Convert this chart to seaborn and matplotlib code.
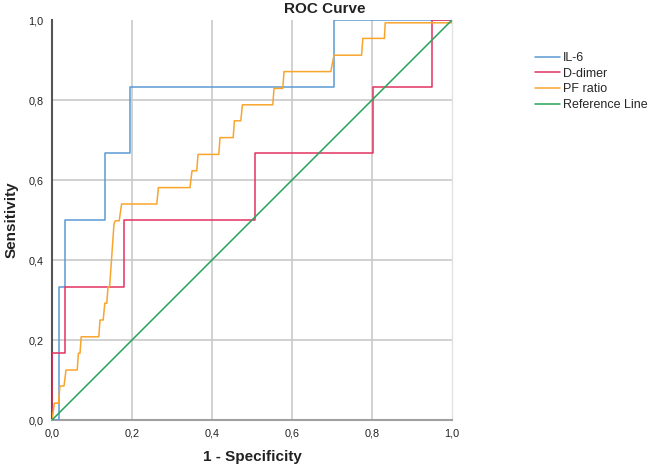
import numpy as np
import pandas as pd
import matplotlib
matplotlib.use("Agg")
import matplotlib.pyplot as plt
import seaborn as sns

# ---- data (ROC vertices) ----
il6_fpr = [0.0, 0.010, 0.017, 0.017, 0.033, 0.033, 0.133, 0.133, 0.195, 0.195, 0.705, 0.705, 1.0]
il6_tpr = [0.0, 0.0, 0.0, 0.333, 0.333, 0.500, 0.500, 0.667, 0.667, 0.833, 0.833, 1.0, 1.0]

ddimer_fpr = [0.0, 0.0, 0.033, 0.033, 0.181, 0.181, 0.508, 0.508, 0.803, 0.803, 0.951, 0.951, 1.0]
ddimer_tpr = [0.0, 0.167, 0.167, 0.333, 0.333, 0.500, 0.500, 0.667, 0.667, 0.833, 0.833, 1.0, 1.0]

pf_fpr = [0.0, 0.006, 0.016, 0.020, 0.030, 0.035, 0.063, 0.066, 0.070, 0.073, 0.117, 0.120,
          0.128, 0.132, 0.137, 0.140, 0.144, 0.155, 0.158, 0.168, 0.174, 0.262, 0.266,
          0.345, 0.350, 0.362, 0.365, 0.417, 0.420, 0.453, 0.456, 0.472, 0.476, 0.552,
          0.555, 0.577, 0.580, 0.697, 0.705, 0.774, 0.777, 0.831, 0.833, 1.0, 1.0]
pf_tpr = [0.0, 0.042, 0.042, 0.085, 0.085, 0.125, 0.125, 0.167, 0.167, 0.208, 0.208, 0.250,
          0.250, 0.292, 0.292, 0.333, 0.333, 0.490, 0.498, 0.498, 0.540, 0.540, 0.581,
          0.581, 0.623, 0.623, 0.664, 0.664, 0.706, 0.706, 0.748, 0.748, 0.788, 0.788,
          0.829, 0.829, 0.871, 0.871, 0.912, 0.912, 0.954, 0.954, 0.993, 0.993, 1.0]

ref_fpr = [0.0, 1.0]
ref_tpr = [0.0, 1.0]

curve_names = ["IL-6", "D-dimer", "PF ratio", "Reference Line"]
curve_colors = ["#5b9bd5", "#e3325f", "#f9a52c", "#25a35a"]

tick_values = [0.0, 0.2, 0.4, 0.6, 0.8, 1.0]
tick_labels = ["0,0", "0,2", "0,4", "0,6", "0,8", "1,0"]

# ---- build table ----
frames = []
for name, xs, ys in zip(curve_names,
                        [il6_fpr, ddimer_fpr, pf_fpr, ref_fpr],
                        [il6_tpr, ddimer_tpr, pf_tpr, ref_tpr]):
    frames.append(pd.DataFrame({"fpr": xs, "tpr": ys, "curve": name,
                                "order": np.arange(len(xs))}))
df = pd.concat(frames, ignore_index=True)

sns.set_theme(style="white")
plt.rcParams["font.family"] = ["Liberation Sans", "DejaVu Sans"]

W, H = 649, 472
fig = plt.figure(figsize=(W / 100, H / 100), dpi=100)
ax = fig.add_axes([52 / W, (H - 420) / H, 400 / W, 400 / H])

sns.lineplot(data=df, x="fpr", y="tpr", hue="curve", hue_order=curve_names,
             palette=dict(zip(curve_names, curve_colors)), sort=False,
             estimator=None, linewidth=1.1, ax=ax, legend=False, zorder=3)

ax.set_xlim(0, 1)
ax.set_ylim(0, 1)
ax.set_xticks(tick_values)
ax.set_yticks(tick_values)
ax.set_xticklabels(tick_labels, fontsize=7.8, color="#222222")
ax.set_yticklabels(tick_labels, fontsize=7.8, color="#222222")
ax.tick_params(axis="both", length=0)
ax.tick_params(axis="x", pad=6)
ax.tick_params(axis="y", pad=6)

for v in tick_values[1:-1]:
    ax.axvline(v, color="#c9c9c9", lw=1.2, zorder=1)
    ax.axhline(v, color="#c9c9c9", lw=1.2, zorder=1)

ax.set_xlabel("")
ax.set_ylabel("")
for s in ["top"]:
    ax.spines[s].set_visible(False)
ax.spines["right"].set_color("#e2e2e2")
ax.spines["right"].set_linewidth(1.0)
ax.spines["left"].set_color("#555555")
ax.spines["left"].set_linewidth(1.5)
ax.spines["bottom"].set_color("#a0a0a0")
ax.spines["bottom"].set_linewidth(1.5)

fig.text(0.5, 1 - 9 / H, "ROC Curve", ha="center", va="center",
         fontsize=11, fontweight="bold", color="#222222")
fig.text(252 / W, (H - 457) / H, "1 - Specificity", ha="center", va="center",
         fontsize=11, fontweight="bold", color="#222222")
fig.text(12 / W, (H - 220) / H, "Sensitivity", ha="center", va="center",
         rotation=90, fontsize=11, fontweight="bold", color="#222222")

handles = [plt.Line2D([], [], color=c, lw=1.1) for c in curve_colors]
fig.legend(handles, curve_names, loc="upper left",
           bbox_to_anchor=(535 / W, 1 - 52 / H), frameon=False,
           fontsize=9, borderpad=0, labelspacing=0.3, handlelength=2.0,
           handletextpad=0.25, borderaxespad=0)

fig.savefig("out.png", dpi=100)
